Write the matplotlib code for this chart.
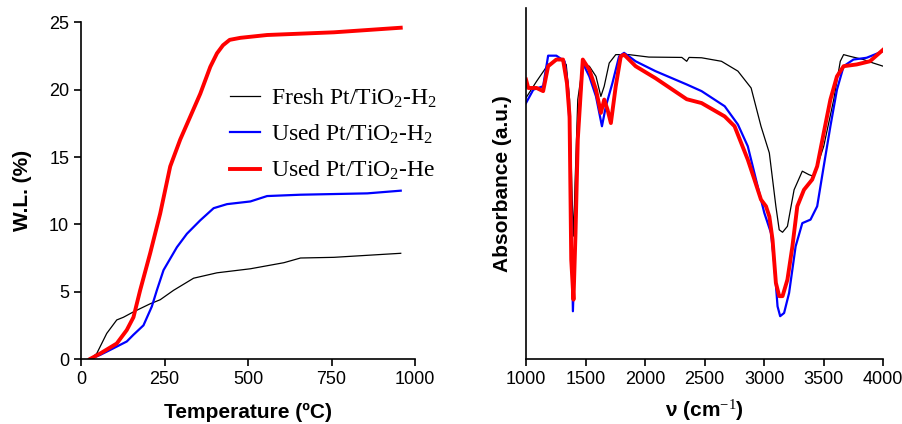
import matplotlib
matplotlib.use("Agg")
import matplotlib.pyplot as plt

plt.rcParams['font.family'] = ['Liberation Sans', 'DejaVu Sans']
plt.rcParams['mathtext.fontset'] = 'custom'
plt.rcParams['mathtext.rm'] = 'Liberation Serif'
plt.rcParams['mathtext.it'] = 'Liberation Serif:italic'

# TGA weight loss (left panel)
t_fresh = [27, 47, 77, 107, 127, 157, 207, 237, 277, 337, 407, 507, 607, 657, 757, 857, 957]
wl_fresh = [0, 0.4, 1.9, 2.9, 3.1, 3.5, 4.1, 4.4, 5.1, 6.0, 6.4, 6.7, 7.15, 7.5, 7.55, 7.7, 7.85]

t_used_h2 = [27, 57, 87, 137, 157, 187, 212, 227, 247, 287, 317, 357, 397, 437, 507, 557, 657, 857, 957]
wl_used_h2 = [0, 0.3, 0.67, 1.3, 1.8, 2.5, 3.9, 5.1, 6.6, 8.3, 9.3, 10.3, 11.2, 11.5, 11.7, 12.1, 12.2, 12.3, 12.5]

t_used_he = [27, 57, 107, 137, 157, 177, 207, 237, 267, 297, 327, 357, 387, 407, 425, 445, 477, 557, 757, 957]
wl_used_he = [0, 0.4, 1.15, 2.15, 3.1, 5.1, 7.85, 10.8, 14.3, 16.3, 18.0, 19.7, 21.7, 22.7, 23.3, 23.7, 23.85, 24.06, 24.26, 24.6]

# IR spectra (right panel), arbitrary absorbance units
nu_fresh = [1000, 1089, 1186, 1283, 1338, 1366, 1388, 1400, 1412, 1435, 1477, 1532, 1588, 1629, 1657, 1699,
            1754, 1865, 2032, 2309, 2350, 2370, 2475, 2642, 2780, 2891, 2974, 3044, 3099, 3127, 3155,
            3196, 3252, 3321, 3377, 3418, 3501, 3585, 3640, 3668, 3723, 3834, 3917, 4000]
ab_fresh = [74.4, 79.1, 83.9, 85.5, 83.9, 73.9, 45.4, 35.0, 50.0, 73.9, 83.9, 83.4, 80.5, 74.8, 77.7, 84.3,
            86.7, 86.7, 86.0, 85.9, 84.8, 85.9, 85.8, 84.8, 82.0, 77.2, 66.3, 58.7, 43.5, 36.8, 36.1,
            37.8, 48.2, 53.5, 52.5, 52.0, 60.6, 73.9, 84.8, 86.7, 86.2, 85.3, 84.3, 83.4]

nu_used_h2 = [1000, 1061, 1144, 1186, 1255, 1324, 1352, 1372, 1394, 1416, 1435, 1477, 1532, 1588, 1638,
              1671, 1726, 1782, 1824, 1921, 2087, 2350, 2475, 2669, 2780, 2863, 2946, 3002, 3058, 3085,
              3113, 3135, 3168, 3210, 3265, 3321, 3390, 3446, 3501, 3557, 3612, 3668, 3751, 3861, 4000]
ab_used_h2 = [72.9, 76.7, 77.7, 86.4, 86.4, 84.8, 77.7, 59.6, 13.6, 35.9, 62.5, 84.3, 80.5, 74.8, 66.3,
              72.0, 78.6, 86.2, 87.2, 84.8, 82.0, 78.2, 76.3, 72.0, 66.8, 60.6, 49.2, 41.6, 35.9, 27.4,
              15.0, 12.2, 13.1, 18.8, 32.1, 38.7, 39.7, 43.5, 54.9, 66.3, 76.7, 83.4, 85.3, 85.8, 87.7]

nu_used_he = [1000, 1019, 1089, 1144, 1186, 1255, 1311, 1344, 1366, 1380, 1399, 1416, 1435, 1477, 1532,
              1588, 1629, 1657, 1685, 1713, 1754, 1796, 1824, 1921, 2087, 2350, 2475, 2669, 2752, 2808,
              2863, 2919, 2974, 3016, 3044, 3071, 3099, 3127, 3155, 3196, 3238, 3279, 3335, 3404, 3446,
              3501, 3557, 3612, 3668, 3778, 3889, 4000]
ab_used_he = [79.6, 77.2, 77.2, 76.3, 83.4, 85.3, 85.3, 78.6, 69.1, 28.3, 16.9, 35.9, 62.5, 85.3, 82.4,
              76.7, 70.1, 73.9, 71.0, 67.2, 77.7, 86.2, 86.7, 83.4, 80.0, 74.0, 72.9, 69.1, 66.3, 61.5,
              56.8, 51.1, 45.4, 43.5, 40.6, 34.0, 21.7, 17.9, 17.9, 22.6, 32.1, 43.5, 48.2, 51.1, 54.9,
              64.4, 73.9, 80.5, 83.4, 83.9, 84.8, 88.1]

labels = ['Fresh Pt/TiO$_2$-H$_2$', 'Used Pt/TiO$_2$-H$_2$', 'Used Pt/TiO$_2$-He']

fig = plt.figure(figsize=(9.03, 4.24), dpi=100)

# left: TGA
ax1 = fig.add_axes([0.0897, 0.1533, 0.370, 0.794])
ax1.plot(t_fresh, wl_fresh, color='black', lw=0.9, label=labels[0])
ax1.plot(t_used_h2, wl_used_h2, color='#0000ff', lw=1.6, label=labels[1])
ax1.plot(t_used_he, wl_used_he, color='#ff0000', lw=2.8, label=labels[2])
ax1.set_xlim(0, 1000)
ax1.set_ylim(0, 25)
ax1.set_xticks([0, 250, 500, 750, 1000])
ax1.set_yticks([0, 5, 10, 15, 20, 25])
ax1.set_xlabel('Temperature (ºC)', fontsize=15, fontweight='bold', labelpad=11)
ax1.set_ylabel('W.L. (%)', fontsize=15, fontweight='bold', labelpad=12)
ax1.legend(loc='upper left', bbox_to_anchor=(0.41, 0.845), frameon=False, borderpad=0,
           handlelength=1.3, handletextpad=0.45, labelspacing=0.55,
           prop={'family': 'Liberation Serif', 'size': 17})

# right: IR
ax2 = fig.add_axes([0.5825, 0.1533, 0.3955, 0.828])
ax2.plot(nu_fresh, ab_fresh, color='black', lw=0.9)
ax2.plot(nu_used_h2, ab_used_h2, color='#0000ff', lw=1.6)
ax2.plot(nu_used_he, ab_used_he, color='#ff0000', lw=2.8)
ax2.set_xlim(1000, 4000)
ax2.set_ylim(0, 100)
ax2.set_xticks([1000, 1500, 2000, 2500, 3000, 3500, 4000])
ax2.set_yticks([])
ax2.set_xlabel('ν (cm$^{-1}$)', fontsize=15, fontweight='bold', labelpad=7)
ax2.set_ylabel('Absorbance (a.u.)', fontsize=15, fontweight='bold', labelpad=10)

for ax in (ax1, ax2):
    ax.spines['top'].set_visible(False)
    ax.spines['right'].set_visible(False)
    ax.spines['left'].set_linewidth(1.2)
    ax.spines['bottom'].set_linewidth(1.2)
    ax.tick_params(direction='out', length=5, width=1.2, labelsize=13)

fig.savefig('out.png', dpi=100)
